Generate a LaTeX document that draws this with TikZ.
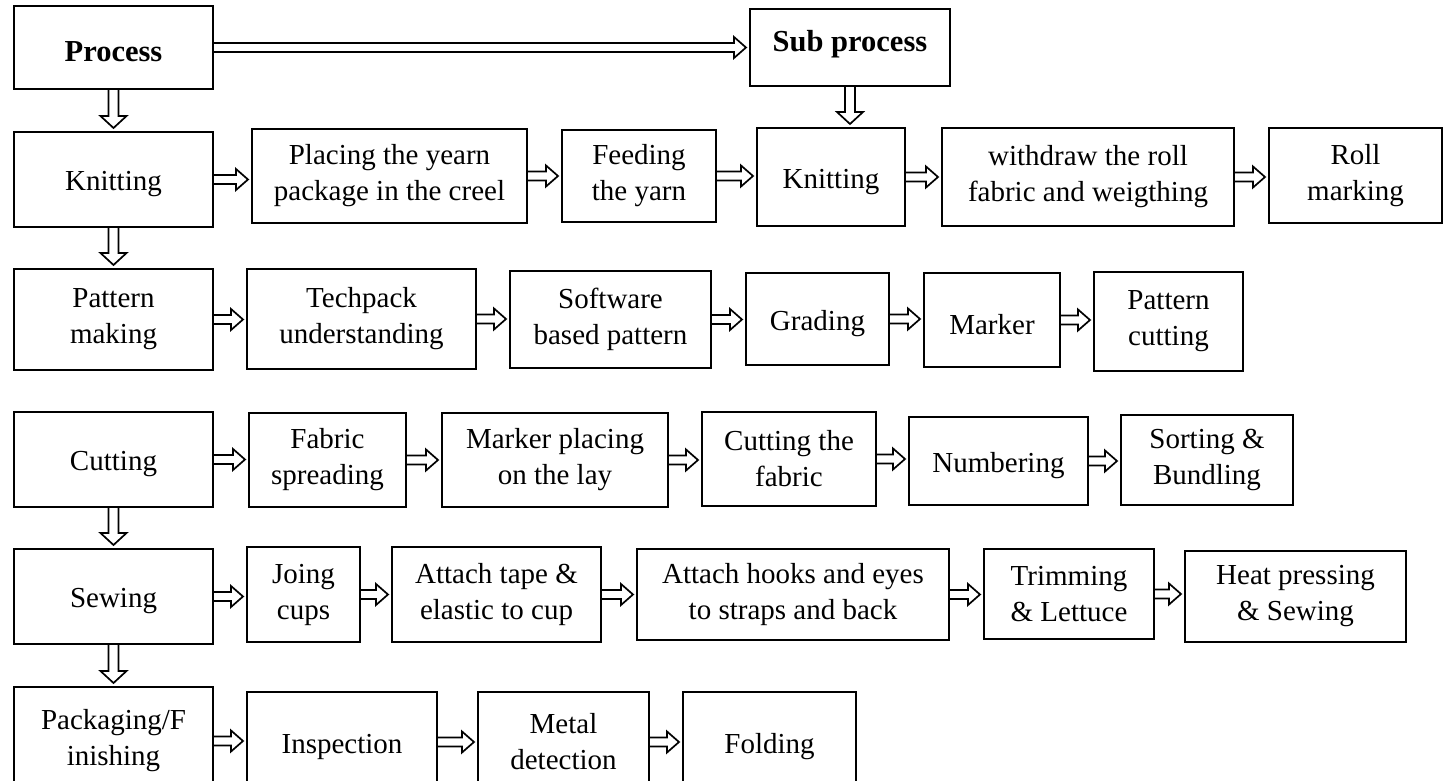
\documentclass[tikz,border=0pt]{standalone}
\usepackage{fontspec}
\setmainfont{Liberation Serif}
\usetikzlibrary{calc}

\tikzset{
  stepbox/.style={draw, line width=2pt, inner sep=0pt, align=center,
    font=\fontsize{29}{36}\selectfont,
    execute at begin node={\rule{0pt}{29pt}}},
  headbox/.style={stepbox, font=\fontsize{30.5}{36}\selectfont\bfseries},
  % hollow block arrow pointing right, drawn at the height of its start point
  harrow/.style={draw, line width=1.7pt, line join=miter,
    to path={let \p1=(\tikztostart), \p2=(\tikztotarget) in
      ({\x1},{\y1+4.5pt}) -- ({\x2-15pt},{\y1+4.5pt}) -- ({\x2-15pt},{\y1+10.5pt})
      -- ({\x2-3pt},{\y1}) -- ({\x2-15pt},{\y1-10.5pt}) -- ({\x2-15pt},{\y1-4.5pt})
      -- ({\x1},{\y1-4.5pt})}},
  % hollow block arrow pointing down, drawn at the x of its start point
  varrow/.style={draw, line width=1.7pt, line join=miter,
    to path={let \p1=(\tikztostart), \p2=(\tikztotarget) in
      ({\x1-5pt},{\y1}) -- ({\x1-5pt},{\y2+15pt}) -- ({\x1-13pt},{\y2+15pt})
      -- ({\x1},{\y2+3pt}) -- ({\x1+13pt},{\y2+15pt}) -- ({\x1+5pt},{\y2+15pt})
      -- ({\x1+5pt},{\y1})}},
}

\begin{document}
\begin{tikzpicture}[x=1pt, y=-1pt]
\useasboundingbox (0,0) rectangle (1444,781);
\fill[white] (0,0) rectangle (1444,781);
\clip (0,0) rectangle (1444,781);

% header row
\node[headbox, minimum width=199pt, minimum height=83pt] (proc) at (113.5,47.5) {Process};
\node[headbox, minimum width=200pt, minimum height=77pt, execute at begin node={}, text depth=21pt] (sub) at (850,47.5) {Sub process};

% knitting
\node[stepbox, minimum width=199pt, minimum height=95pt] (knit) at (113.5,179.5) {Knitting};
\node[stepbox, minimum width=275pt, minimum height=94pt] (place) at (389.5,176) {Placing the yearn\\package in the creel};
\node[stepbox, minimum width=154pt, minimum height=92pt] (feed) at (639,176) {Feeding\\the yarn};
\node[stepbox, minimum width=148pt, minimum height=98pt] (knit2) at (831,177) {Knitting};
\node[stepbox, minimum width=292pt, minimum height=98pt] (withdraw) at (1088,177) {withdraw the roll\\fabric and weigthing};
\node[stepbox, minimum width=173pt, minimum height=95pt] (roll) at (1355.5,175.5) {Roll\\marking};

% pattern making
\node[stepbox, minimum width=199pt, minimum height=101pt] (pat) at (113.5,319.5) {Pattern\\making};
\node[stepbox, minimum width=229pt, minimum height=100pt] (tech) at (361.5,319) {Techpack\\understanding};
\node[stepbox, minimum width=201pt, minimum height=97pt] (soft) at (610.5,319.5) {Software\\based pattern};
\node[stepbox, minimum width=143pt, minimum height=92pt] (grad) at (817.5,319) {Grading};
\node[stepbox, minimum width=136pt, minimum height=94pt] (marker) at (992,320) {Marker};
\node[stepbox, minimum width=149pt, minimum height=99pt] (patcut) at (1168.5,321.5) {Pattern\\cutting};

% cutting
\node[stepbox, minimum width=199pt, minimum height=95pt] (cut) at (113.5,459.5) {Cutting};
\node[stepbox, minimum width=157pt, minimum height=94pt] (spread) at (327.5,460) {Fabric\\spreading};
\node[stepbox, minimum width=226pt, minimum height=94pt] (mplace) at (555,460) {Marker placing\\on the lay};
\node[stepbox, minimum width=174pt, minimum height=94pt] (cutfab) at (789,459) {Cutting the\\fabric};
\node[stepbox, minimum width=179pt, minimum height=88pt] (numb) at (998.5,461) {Numbering};
\node[stepbox, minimum width=172pt, minimum height=90pt] (sort) at (1207,460) {Sorting \&\\Bundling};

% sewing
\node[stepbox, minimum width=199pt, minimum height=95pt] (sew) at (113.5,596.5) {Sewing};
\node[stepbox, minimum width=113pt, minimum height=95pt] (join) at (303.5,594.5) {Joing\\cups};
\node[stepbox, minimum width=209pt, minimum height=95pt] (tape) at (496.5,594.5) {Attach tape \&\\elastic to cup};
\node[stepbox, minimum width=312pt, minimum height=91pt] (hooks) at (793,594.5) {Attach hooks and eyes\\to straps and back};
\node[stepbox, minimum width=170pt, minimum height=90pt] (trim) at (1069,594) {Trimming\\\& Lettuce};
\node[stepbox, minimum width=221pt, minimum height=91pt] (heat) at (1295.5,596.5) {Heat pressing\\\& Sewing};

% packaging / finishing
\node[stepbox, minimum width=199pt, minimum height=108pt] (pack) at (113.5,741) {Packaging/F\\inishing};
\node[stepbox, minimum width=190pt, minimum height=100pt] (insp) at (342,742) {Inspection};
\node[stepbox, minimum width=171pt, minimum height=100pt] (metal) at (563.5,742) {Metal\\detection};
\node[stepbox, minimum width=173pt, minimum height=100pt] (fold) at (769.5,742) {Folding};

% connectors
\draw[harrow] (proc.east) to (sub.west);
\draw[varrow] (proc.south) to (knit.north);
\draw[varrow] (sub.south) to (knit2.north);
\draw[varrow] (knit.south) to (pat.north);
\draw[varrow] (cut.south) to (sew.north);
\draw[varrow] (sew.south) to (pack.north);

\draw[harrow] (knit.east) to (place.west);
\draw[harrow] (place.east) to (feed.west);
\draw[harrow] (feed.east) to (knit2.west);
\draw[harrow] (knit2.east) to (withdraw.west);
\draw[harrow] (withdraw.east) to (roll.west);

\draw[harrow] (pat.east) to (tech.west);
\draw[harrow] (tech.east) to (soft.west);
\draw[harrow] (soft.east) to (grad.west);
\draw[harrow] (grad.east) to (marker.west);
\draw[harrow] (marker.east) to (patcut.west);

\draw[harrow] (cut.east) to (spread.west);
\draw[harrow] (spread.east) to (mplace.west);
\draw[harrow] (mplace.east) to (cutfab.west);
\draw[harrow] (cutfab.east) to (numb.west);
\draw[harrow] (numb.east) to (sort.west);

\draw[harrow] (sew.east) to (join.west);
\draw[harrow] (join.east) to (tape.west);
\draw[harrow] (tape.east) to (hooks.west);
\draw[harrow] (hooks.east) to (trim.west);
\draw[harrow] (trim.east) to (heat.west);

\draw[harrow] (pack.east) to (insp.west);
\draw[harrow] (insp.east) to (metal.west);
\draw[harrow] (metal.east) to (fold.west);
\end{tikzpicture}
\end{document}
